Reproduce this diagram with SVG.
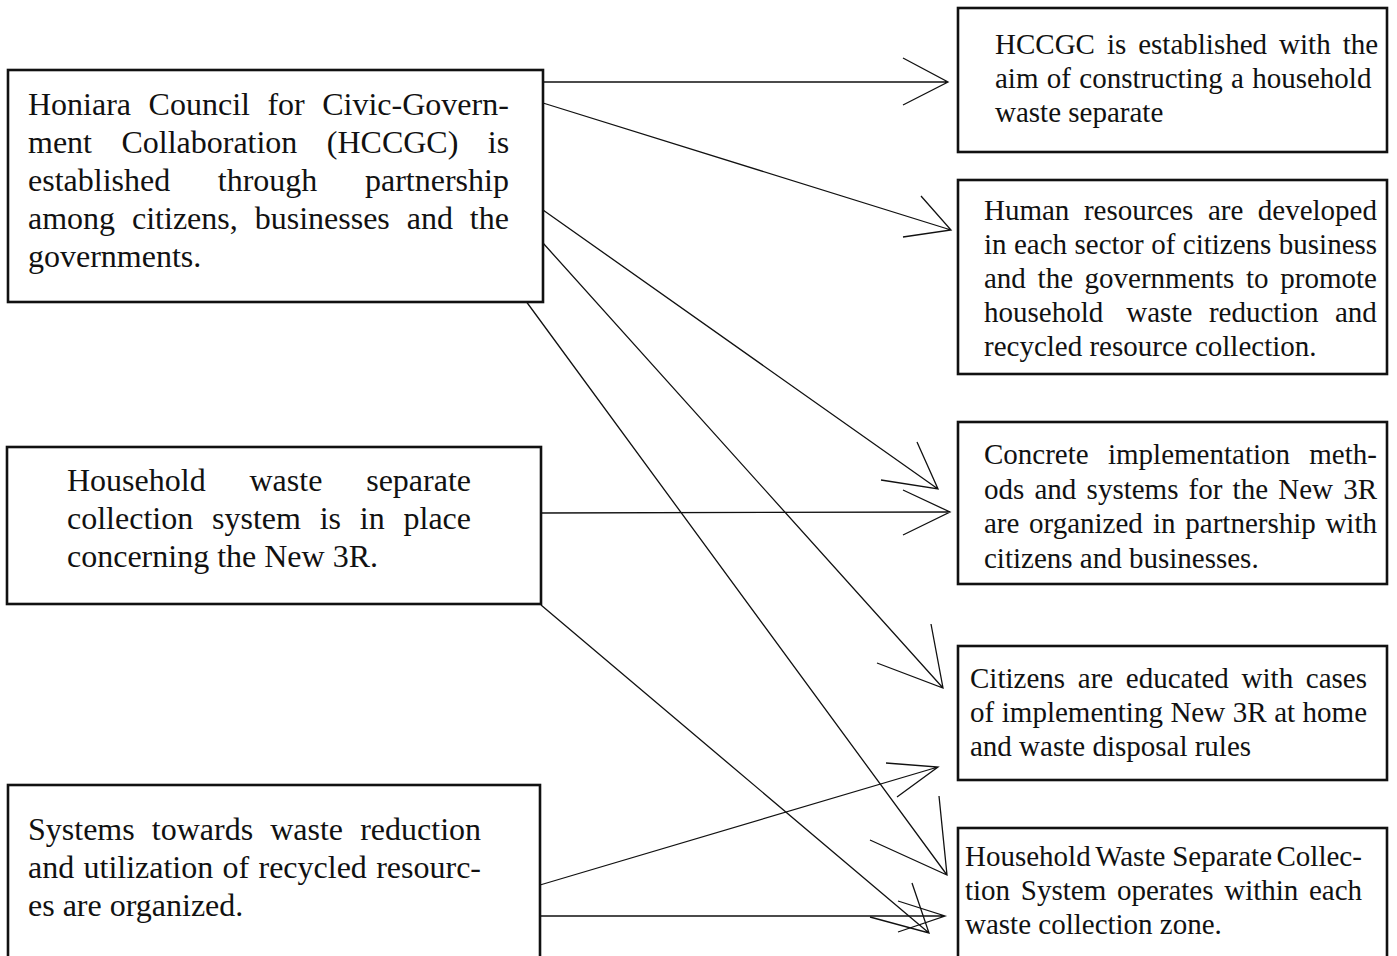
<svg xmlns="http://www.w3.org/2000/svg" width="1397" height="956" viewBox="0 0 1397 956">
<style>
.box{fill:#fff;stroke:#111;stroke-width:2.6}
.l{font-family:"Liberation Serif","Times New Roman",serif;font-size:32px;fill:#111}
.r{font-family:"Liberation Serif","Times New Roman",serif;font-size:29px;fill:#111}
.c{fill:none;stroke:#111;stroke-width:1.3;stroke-linejoin:miter}
</style>
<rect width="1397" height="956" fill="#fff"/>
<g id="connectors">
<path class="c" d="M543 82L948 82M903 58L948 82L903 105"/>
<path class="c" d="M543 103L951 230M921 196L951 230L903 237"/>
<path class="c" d="M543 210L938 489M917 442L938 489L881 480"/>
<path class="c" d="M541 513L950 512M903 490L950 512L903 535"/>
<path class="c" d="M543 243L943 688M931 624L943 688L877 663"/>
<path class="c" d="M520 293L947 875M939 796L947 875L870 840"/>
<path class="c" d="M541 605L929 933M912 883L929 933L870 917"/>
<path class="c" d="M540 885L938 767M886 763L938 767L897 797"/>
<path class="c" d="M540 916L945 916M898 901L945 916L898 932"/>
</g>
<g id="nodeA">
<rect class="box" x="8" y="70" width="535" height="232"/>
<text class="l"><tspan x="28" y="115">Honiara</tspan><tspan x="148.6" y="115">Council</tspan><tspan x="267.4" y="115">for</tspan><tspan x="322.2" y="115">Civic-Govern-</tspan></text>
<text class="l"><tspan x="28" y="153">ment</tspan><tspan x="121.4" y="153">Collaboration</tspan><tspan x="326.8" y="153">(HCCGC)</tspan><tspan x="487.8" y="153">is</tspan></text>
<text class="l"><tspan x="28" y="191">established</tspan><tspan x="217.8" y="191">through</tspan><tspan x="365" y="191">partnership</tspan></text>
<text class="l"><tspan x="28" y="229">among</tspan><tspan x="132" y="229">citizens,</tspan><tspan x="254.7" y="229">businesses</tspan><tspan x="406.7" y="229">and</tspan><tspan x="469.8" y="229">the</tspan></text>
<text class="l" x="28" y="267">governments.</text>
</g>
<g id="nodeB">
<rect class="box" x="7" y="447" width="534" height="157"/>
<text class="l"><tspan x="67" y="491">Household</tspan><tspan x="249.5" y="491">waste</tspan><tspan x="366.2" y="491">separate</tspan></text>
<text class="l"><tspan x="67" y="529">collection</tspan><tspan x="212" y="529">system</tspan><tspan x="319.7" y="529">is</tspan><tspan x="359.8" y="529">in</tspan><tspan x="403.5" y="529">place</tspan></text>
<text class="l" x="67" y="567">concerning the New 3R.</text>
</g>
<g id="nodeC">
<rect class="box" x="8" y="785" width="532" height="180"/>
<text class="l"><tspan x="28" y="840">Systems</tspan><tspan x="151.8" y="840">towards</tspan><tspan x="270.2" y="840">waste</tspan><tspan x="360.2" y="840">reduction</tspan></text>
<text class="l"><tspan x="28" y="878">and</tspan><tspan x="83.5" y="878">utilization</tspan><tspan x="222.5" y="878">of</tspan><tspan x="258.5" y="878">recycled</tspan><tspan x="376.2" y="878">resourc-</tspan></text>
<text class="l" x="28" y="916">es are organized.</text>
</g>
<g id="nodeR1">
<rect class="box" x="958" y="8" width="429" height="144"/>
<text class="r"><tspan x="995" y="54">HCCGC</tspan><tspan x="1106.9" y="54">is</tspan><tspan x="1138.2" y="54">established</tspan><tspan x="1279.1" y="54">with</tspan><tspan x="1342.7" y="54">the</tspan></text>
<text class="r"><tspan x="995" y="88">aim</tspan><tspan x="1046.8" y="88">of</tspan><tspan x="1079.3" y="88">constructing</tspan><tspan x="1231" y="88">a</tspan><tspan x="1252.2" y="88">household</tspan></text>
<text class="r" x="995" y="122">waste separate</text>
</g>
<g id="nodeR2">
<rect class="box" x="958" y="180" width="429" height="194"/>
<text class="r"><tspan x="984" y="220">Human</tspan><tspan x="1083.9" y="220">resources</tspan><tspan x="1207.9" y="220">are</tspan><tspan x="1257.8" y="220">developed</tspan></text>
<text class="r"><tspan x="984" y="254">in</tspan><tspan x="1014" y="254">each</tspan><tspan x="1074.5" y="254">sector</tspan><tspan x="1151.2" y="254">of</tspan><tspan x="1182.8" y="254">citizens</tspan><tspan x="1278.8" y="254">business</tspan></text>
<text class="r"><tspan x="984" y="288">and</tspan><tspan x="1037.6" y="288">the</tspan><tspan x="1084.6" y="288">governments</tspan><tspan x="1246" y="288">to</tspan><tspan x="1280.3" y="288">promote</tspan></text>
<text class="r"><tspan x="984" y="322">household</tspan><tspan x="1126.3" y="322">waste</tspan><tspan x="1208.9" y="322">reduction</tspan><tspan x="1335" y="322">and</tspan></text>
<text class="r" x="984" y="356">recycled resource collection.</text>
</g>
<g id="nodeR3">
<rect class="box" x="958" y="422" width="429" height="162"/>
<text class="r"><tspan x="984" y="464">Concrete</tspan><tspan x="1108" y="464">implementation</tspan><tspan x="1309.3" y="464">meth-</tspan></text>
<text class="r"><tspan x="984" y="498.5">ods</tspan><tspan x="1034.5" y="498.5">and</tspan><tspan x="1086.6" y="498.5">systems</tspan><tspan x="1188.6" y="498.5">for</tspan><tspan x="1232.6" y="498.5">the</tspan><tspan x="1278.2" y="498.5">New</tspan><tspan x="1343.2" y="498.5">3R</tspan></text>
<text class="r"><tspan x="984" y="533">are</tspan><tspan x="1029" y="533">organized</tspan><tspan x="1153" y="533">in</tspan><tspan x="1185.3" y="533">partnership</tspan><tspan x="1325.4" y="533">with</tspan></text>
<text class="r" x="984" y="567.5">citizens and businesses.</text>
</g>
<g id="nodeR4">
<rect class="box" x="958" y="646" width="429" height="134"/>
<text class="r"><tspan x="970" y="688">Citizens</tspan><tspan x="1077.8" y="688">are</tspan><tspan x="1125.8" y="688">educated</tspan><tspan x="1241.6" y="688">with</tspan><tspan x="1305.8" y="688">cases</tspan></text>
<text class="r"><tspan x="970" y="722">of</tspan><tspan x="1001.8" y="722">implementing</tspan><tspan x="1170.4" y="722">New</tspan><tspan x="1232.8" y="722">3R</tspan><tspan x="1274.2" y="722">at</tspan><tspan x="1302.6" y="722">home</tspan></text>
<text class="r" x="970" y="756">and waste disposal rules</text>
</g>
<g id="nodeR5">
<rect class="box" x="958" y="828" width="429" height="140"/>
<text class="r"><tspan x="965" y="866">Household</tspan><tspan x="1095.2" y="866">Waste</tspan><tspan x="1172.2" y="866">Separate</tspan><tspan x="1276.5" y="866">Collec-</tspan></text>
<text class="r"><tspan x="965" y="900">tion</tspan><tspan x="1020.8" y="900">System</tspan><tspan x="1116.9" y="900">operates</tspan><tspan x="1224.2" y="900">within</tspan><tspan x="1309" y="900">each</tspan></text>
<text class="r" x="965" y="934">waste collection zone.</text>
</g>
</svg>
